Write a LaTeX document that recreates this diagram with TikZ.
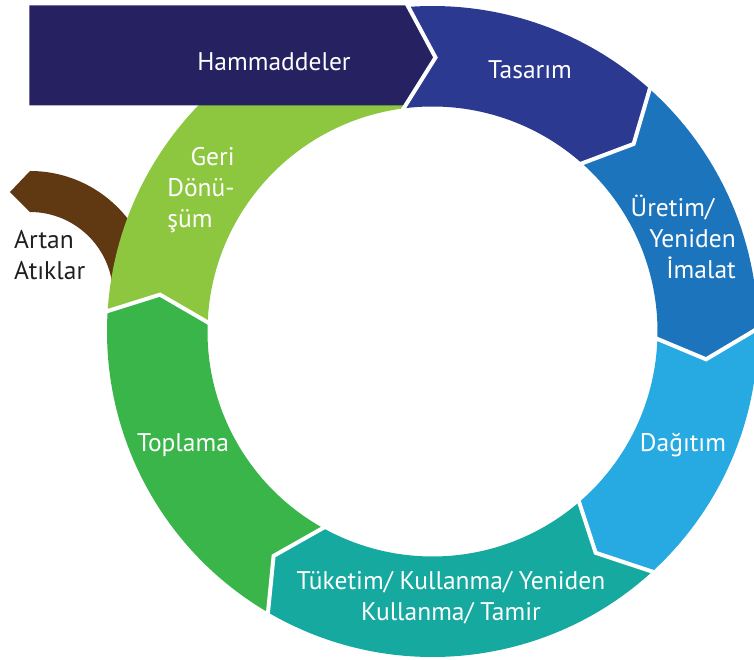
\documentclass[tikz,border=0pt]{standalone}
\usepackage{fontspec}
\setmainfont{PT Sans}
\definecolor{cnavy}{HTML}{262262}
\definecolor{ctas}{HTML}{2B3990}
\definecolor{cure}{HTML}{1C75BC}
\definecolor{cdag}{HTML}{27AAE1}
\definecolor{ctuk}{HTML}{16A99F}
\definecolor{ctop}{HTML}{39B54A}
\definecolor{cger}{HTML}{8DC63F}
\definecolor{cbrown}{HTML}{603913}
\definecolor{ctxt}{HTML}{231F20}
\begin{document}
\begin{tikzpicture}[x=1pt,y=1pt,
  lab/.style={text=white,font=\fontsize{25.5}{31}\selectfont,inner sep=0pt},
  sep/.style={draw=white,line width=4pt,line join=miter}]
\def\RO{325.5}\def\RI{225}\def\RM{275}\def\RX{330}\def\RY{221}
\useasboundingbox (-432.5,-328.5) rectangle (321.5,331.5);
\clip (-432.5,-328.5) rectangle (321.5,331.5);
% brown output arrow
\fill[cbrown] (-402.5,36.5) ++(90:124) arc[start angle=90,end angle=0,radius=124]
  -- ++(-41,0) arc[start angle=0,end angle=90,radius=83] -- ++(-20,20) -- cycle;
% ring segments
\fill[ctas] (94.8:\RO) arc[start angle=94.8,end angle=48.5,radius=\RO] -- (43:\RM)
  -- (48.9:\RI) arc[start angle=48.9,end angle=97,radius=\RI] -- (3,274) -- cycle;
\fill[cure] (48.5:\RO) arc[start angle=48.5,end angle=1,radius=\RO] -- (-5.8:\RM)
  -- (-1.5:\RI) arc[start angle=-1.5,end angle=48.9,radius=\RI] -- (43:\RM) -- cycle;
\fill[cdag] (1:\RO) arc[start angle=1,end angle=-47.1,radius=\RO] -- (-53.6:\RM)
  -- (-48.9:\RI) arc[start angle=-48.9,end angle=-1.5,radius=\RI] -- (-5.8:\RM) -- cycle;
\fill[ctuk] (-47.1:\RO) arc[start angle=-47.1,end angle=-120,radius=\RO] -- (-125.3:\RM)
  -- (-118.5:\RI) arc[start angle=-118.5,end angle=-48.9,radius=\RI] -- (-53.6:\RM) -- cycle;
\fill[ctop] (-120:\RO) arc[start angle=-120,end angle=-183.3,radius=\RO] -- (-187.7:\RM)
  -- (-181.8:\RI) arc[start angle=-181.8,end angle=-118.5,radius=\RI] -- (-125.3:\RM) -- cycle;
\fill[cger] (176.7:\RO) arc[start angle=176.7,end angle=100,radius=\RO]
  -- (97:\RI) arc[start angle=97,end angle=178.2,radius=\RI] -- (172.3:\RM) -- cycle;
% separators
\draw[sep] (48.5:\RX) -- (43:\RM) -- (48.9:\RY);
\draw[sep] (1:\RX) -- (-5.8:\RM) -- (-1.5:\RY);
\draw[sep] (-47.1:\RX) -- (-53.6:\RM) -- (-48.9:\RY);
\draw[sep] (-120:\RX) -- (-125.3:\RM) -- (-118.5:\RY);
\draw[sep] (-183.3:\RX) -- (-187.7:\RM) -- (-181.8:\RY);
% input bar
\fill[cnavy] (-403,326) -- (-27,326) -- (3,274) -- (-27,226) -- (-403,226) -- cycle;
\draw[sep] (-27,330) -- (3,274) -- (-29.7,221.8);
% labels
\node[lab] (ham) at (-158.5,269.5) {Hammaddeler};
\node[lab] (tas) at (97.5,261.5) {Tasarım};
\node[lab,align=right,anchor=east] (ure) at (303.5,94.5) {Üretim/\hspace*{0.85em}\\Yeniden\\İmalat};
\node[lab] (dag) at (250.5,-113.5) {Dağıtım};
\node[lab,align=center] (tuk) at (18.5,-266.5) {Tüketim/ Kullanma/ Yeniden\\Kullanma/ Tamir};
\node[lab] (top) at (-249.5,-113.5) {Toplama};
\node[lab] (geri) at (-231.5,141.5) {\begin{tabular}{@{}l@{}}\multicolumn{1}{@{}r@{}}{Geri}\\Dönü-\\şüm\end{tabular}};
\node[lab,text=ctxt,anchor=west] (art) at (-418.5,73.5) {\begin{tabular}{@{}l@{}}Artan\\Atıklar\end{tabular}};
\end{tikzpicture}
\end{document}
